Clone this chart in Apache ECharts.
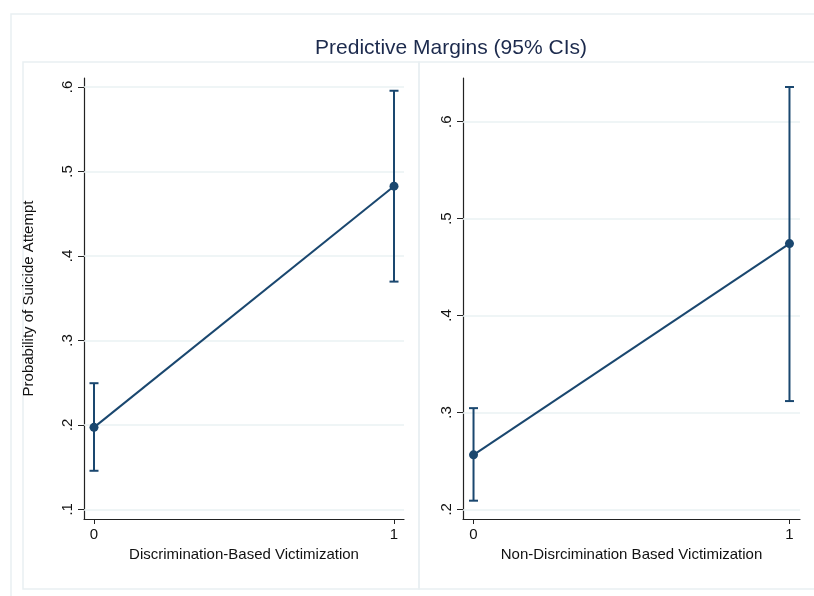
<!DOCTYPE html>
<html>
<head>
<meta charset="utf-8">
<script src="https://cdn.jsdelivr.net/npm/echarts@6/dist/echarts.min.js"></script>
<style>
html,body{margin:0;padding:0;background:#fff;}
#main{width:814px;height:596px;}
</style>
</head>
<body>
<div id="main"></div>
<script>
// Data
const chartTitle = 'Predictive Margins (95% CIs)';
const yAxisTitle = 'Probability of Suicide Attempt';
const xCategories = [0, 1];
const xTickLabels = ['0', '1'];

const leftXTitle = 'Discrimination-Based Victimization';
const leftMargins = [0.197, 0.4826];
const leftLower = [0.1456, 0.3696];
const leftUpper = [0.2493, 0.5956];
const leftYTicks = [0.1, 0.2, 0.3, 0.4, 0.5, 0.6];

const rightXTitle = 'Non-Disrcimination Based Victimization';
const rightMargins = [0.2562, 0.4742];
const rightLower = [0.2089, 0.3117];
const rightUpper = [0.3044, 0.6358];
const rightYTicks = [0.2, 0.3, 0.4, 0.5, 0.6];

const navy = '#1a476f';
const gridColor = '#eaf2f3';
const frameColor = '#e9f0f2';
const fontFam = '"Liberation Sans", Arial, Helvetica, sans-serif';

const fmt = v => String(+v.toFixed(2)).replace(/^0\./, '.');

function xAxisCfg(idx, name) {
  return {
    type: 'value', gridIndex: idx, min: -0.0333, max: 1.0333,
    name: name, nameLocation: 'middle', nameGap: 25,
    nameTextStyle: { color: '#111', fontSize: 15, fontFamily: fontFam },
    axisLine: { show: true, onZero: false, lineStyle: { color: '#222', width: 1.2 } },
    axisTick: { show: true, length: 5, customValues: xCategories, lineStyle: { color: '#222' } },
    axisLabel: { customValues: xCategories, formatter: v => xTickLabels[xCategories.indexOf(v)] ?? String(v),
      color: '#111', fontSize: 15, margin: 8, fontFamily: fontFam },
    splitLine: { show: false }
  };
}
function yAxisCfg(idx, min, max, ticks, name) {
  return {
    type: 'value', gridIndex: idx, min: min, max: max,
    name: name || '', nameLocation: 'middle', nameGap: 48, nameRotate: 90,
    nameTextStyle: { color: '#111', fontSize: 15, fontFamily: fontFam },
    axisLine: { show: true, onZero: false, lineStyle: { color: '#222', width: 1.2 } },
    axisTick: { show: true, length: 6, customValues: ticks, lineStyle: { color: '#222' } },
    axisLabel: { customValues: ticks, formatter: v => fmt(v), rotate: 90,
      color: '#111', fontSize: 15, margin: 9, fontFamily: fontFam },
    splitLine: { show: false }
  };
}
function errSeries(idx, lower, upper) {
  return {
    type: 'custom', xAxisIndex: idx, yAxisIndex: idx, z: 3,
    data: xCategories.map((x, i) => [x, lower[i], upper[i]]),
    renderItem: function (params, api) {
      const lo = api.coord([api.value(0), api.value(1)]);
      const hi = api.coord([api.value(0), api.value(2)]);
      const w = 4.5;
      const st = { stroke: navy, lineWidth: 2 };
      return { type: 'group', children: [
        { type: 'line', shape: { x1: lo[0], y1: lo[1], x2: hi[0], y2: hi[1] }, style: st },
        { type: 'line', shape: { x1: lo[0] - w, y1: lo[1], x2: lo[0] + w, y2: lo[1] }, style: st },
        { type: 'line', shape: { x1: hi[0] - w, y1: hi[1], x2: hi[0] + w, y2: hi[1] }, style: st }
      ]};
    }
  };
}
function lineSeries(idx, vals, ticks) {
  return {
    type: 'line', xAxisIndex: idx, yAxisIndex: idx, z: 4,
    data: xCategories.map((x, i) => [x, vals[i]]),
    symbol: 'circle', symbolSize: 9,
    lineStyle: { color: navy, width: 2 },
    itemStyle: { color: navy },
    markLine: {
      silent: true, symbol: 'none', z: 1,
      label: { show: false },
      lineStyle: { color: gridColor, width: 1.5, type: 'solid' },
      data: ticks.map(t => ({ yAxis: t }))
    },
    animation: false
  };
}

const chart = echarts.init(document.getElementById('main'), null, { renderer: 'canvas' });
chart.setOption({
  animation: false,
  backgroundColor: '#fff',
  title: {
    text: chartTitle, left: 446, top: 33, textAlign: 'center',
    textStyle: { color: '#1c2a4d', fontSize: 21, fontWeight: 'normal', fontFamily: fontFam }
  },
  graphic: [
    { type: 'rect', shape: { x: 11, y: 14, width: 820, height: 600 }, style: { fill: 'none', stroke: frameColor, lineWidth: 1.5 }, z: -1 },
    { type: 'rect', shape: { x: 23, y: 62, width: 396, height: 527 }, style: { fill: 'none', stroke: frameColor, lineWidth: 1.5 }, z: -1 },
    { type: 'rect', shape: { x: 419, y: 62, width: 420, height: 527 }, style: { fill: 'none', stroke: frameColor, lineWidth: 1.5 }, z: -1 }
  ],
  grid: [
    { left: 84, top: 78, width: 320, height: 441 },
    { left: 463, top: 78, width: 337, height: 441 }
  ],
  xAxis: [xAxisCfg(0, leftXTitle), xAxisCfg(1, rightXTitle)],
  yAxis: [
    yAxisCfg(0, 0.0885, 0.6107, leftYTicks, yAxisTitle),
    yAxisCfg(1, 0.190, 0.6451, rightYTicks, '')
  ],
  series: [
    lineSeries(0, leftMargins, leftYTicks),
    errSeries(0, leftLower, leftUpper),
    lineSeries(1, rightMargins, rightYTicks),
    errSeries(1, rightLower, rightUpper)
  ]
});
</script>
</body>
</html>
